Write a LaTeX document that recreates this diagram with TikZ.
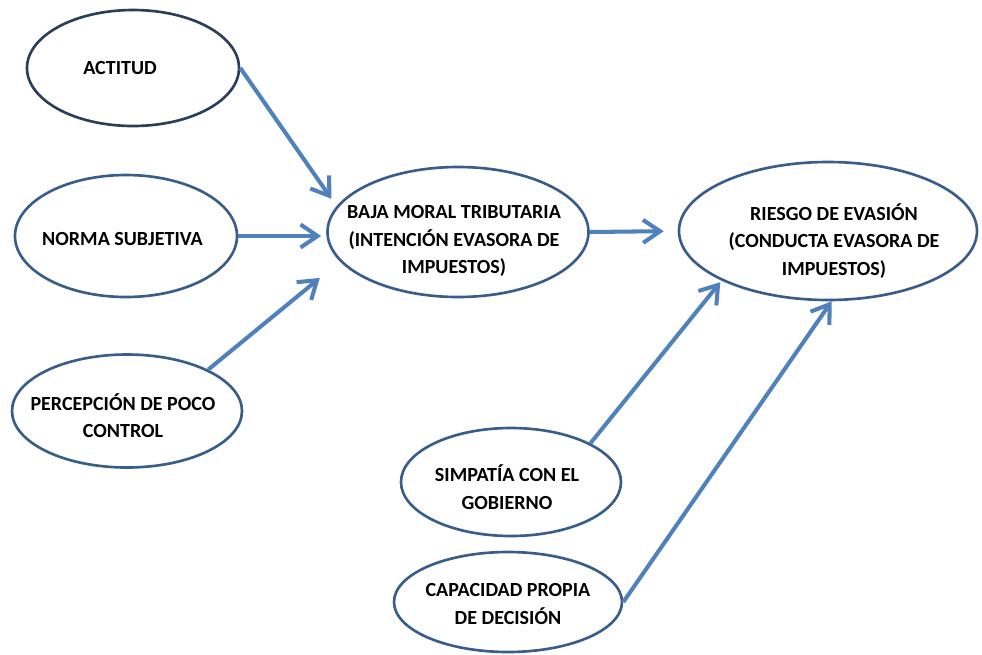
\documentclass[tikz,border=0pt]{standalone}
\usepackage{fontspec}
\setmainfont{Carlito}
\usetikzlibrary{shapes.geometric,arrows.meta}
\definecolor{contour}{HTML}{385D8A}
\definecolor{contourfonce}{HTML}{2B3E57}
\definecolor{fleche}{HTML}{4F81BD}
\begin{document}
\begin{tikzpicture}[x=0.2mm,y=-0.2mm]\tikzstyle{every node}=[font=\fontsize{11.4}{15.6}\selectfont\bfseries]
\tikzstyle{bulle}=[ellipse, draw=contour, line width=1.5pt, inner sep=0pt]
\tikzstyle{texte}=[align=center, inner sep=0pt]
\tikzstyle{lien}=[draw=fleche, line width=2.3pt, -{Straight Barb[length=3.4mm,width=4.6mm]}]
\useasboundingbox (0,0) rectangle (982,654);
% actitud
  \node[bulle, draw=contourfonce, minimum width=42.4mm, minimum height=23.2mm,%
    label={[texte, xshift=-2.6mm]center:ACTITUD}] (actitud) at (133,68) {};
% norma_subjetiva
  \node[bulle, minimum width=44.4mm, minimum height=24.4mm,%
    label={[texte, xshift=-0.7mm, yshift=-0.6mm]center:NORMA SUBJETIVA}] (norma) at (126,236) {};
% percepcion
  \node[bulle, minimum width=46mm, minimum height=22.6mm,%
    label={[texte, xshift=-0.8mm, yshift=-0.9mm]center:PERCEPCIÓN DE POCO\\CONTROL}] (percepcion) at (127,411) {};
% baja_moral
  \node[bulle, minimum width=52.2mm, minimum height=26mm,%
    label={[texte, xshift=-0.8mm, yshift=-1.8mm]center:BAJA MORAL TRIBUTARIA\\(INTENCIÓN EVASORA DE\\IMPUESTOS)}] (baja) at (458,232) {};
% riesgo_evasion
  \node[bulle, minimum width=59.6mm, minimum height=27.6mm,%
    label={[texte, xshift=1.2mm, yshift=-2mm]center:RIESGO DE EVASIÓN\\(CONDUCTA EVASORA DE\\IMPUESTOS)}] (riesgo) at (828,231) {};
% simpatia
  \node[bulle, minimum width=44mm, minimum height=21.6mm,%
    label={[texte, xshift=-0.8mm, yshift=-1mm]center:SIMPATÍA CON EL\\GOBIERNO}] (simpatia) at (511,482) {};
% capacidad
  \node[bulle, minimum width=45.6mm, minimum height=20mm,%
    label={[texte, yshift=-0.4mm]center:CAPACIDAD PROPIA\\DE DECISIÓN}] (capacidad) at (508,602) {};
% liens
  \draw[lien, shorten >=1.8mm] (actitud.east) -- (baja.168);
  \draw[lien, shorten >=1mm] (norma.east) -- (norma.east -| baja.west);
  \draw[lien, shorten >=5.2mm] (percepcion.27) -- (baja.194);
  \draw[lien, shorten >=2.8mm] (baja.east) -- (riesgo.west);
  \draw[lien, shorten >=0.4mm] (simpatia.26) -- (riesgo.205);
  \draw[lien] (capacidad.east) -- (riesgo.273);
\end{tikzpicture}
\end{document}
